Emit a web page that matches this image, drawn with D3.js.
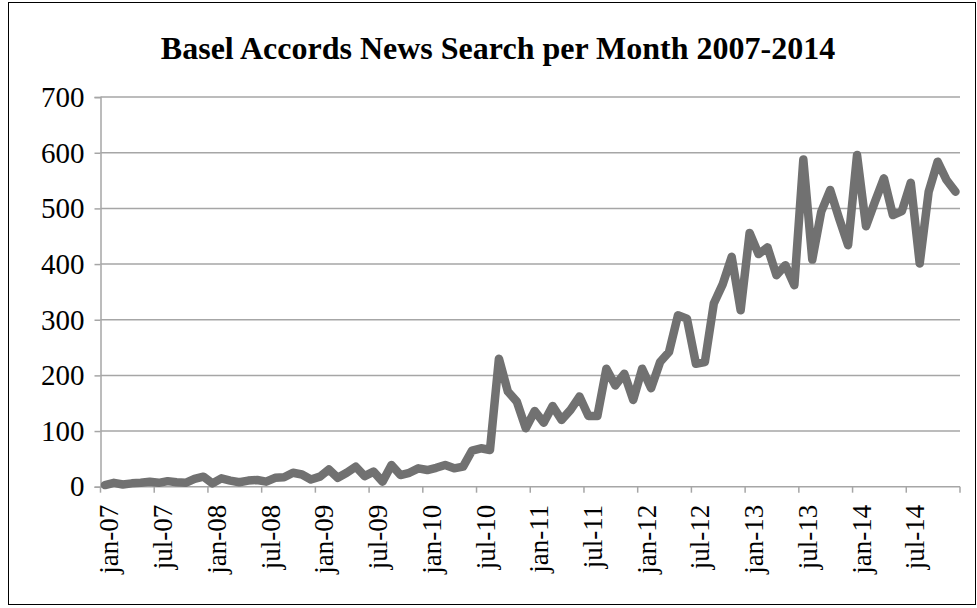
<!DOCTYPE html>
<html>
<head>
<meta charset="utf-8">
<script src="https://cdn.jsdelivr.net/npm/d3@7"></script>
<style>
  html, body { margin: 0; padding: 0; background: #fff; }
  svg { display: block; }
  text { font-family: "Liberation Serif", "Times New Roman", serif; fill: #000; }
</style>
</head>
<body>
<svg id="chart" width="977" height="608"></svg>
<script>
// ---- data ----
const title = "Basel Accords News Search per Month 2007-2014";
const years = ["07", "08", "09", "10", "11", "12", "13", "14"];
const monthNames = ["jan", "feb", "mar", "apr", "may", "jun", "jul", "aug", "sep", "oct", "nov", "dec"];
const categories = years.flatMap(y => monthNames.map(m => m + "-" + y));
const tickLabels = ["jan-07","jul-07","jan-08","jul-08","jan-09","jul-09","jan-10","jul-10",
                    "jan-11","jul-11","jan-12","jul-12","jan-13","jul-13","jan-14","jul-14"];
const yTicks = [0, 100, 200, 300, 400, 500, 600, 700];
const values = [
  3, 7, 4, 6, 7, 9, 7, 10, 8, 7, 14, 18,
  6, 15, 11, 8, 11, 12, 9, 16, 17, 25, 22, 13,
  18, 31, 16, 25, 36, 19, 27, 9, 39, 21, 25, 33,
  30, 34, 39, 33, 36, 65, 69, 66, 230, 171, 153, 105,
  136, 115, 145, 120, 138, 162, 127, 127, 212, 182, 203, 156,
  212, 177, 224, 242, 308, 302, 221, 224, 329, 364, 413, 317,
  456, 418, 430, 380, 398, 362, 588, 408, 494, 533, 482, 434,
  596, 468, 512, 554, 488, 495, 546, 401, 530, 584, 551, 530
];

// ---- layout ----
const FONT = '"Liberation Serif", "Times New Roman", serif';
const svg = d3.select("#chart");
const W = 977, H = 608;
const plot = { left: 100.5, right: 960, top: 97.1, bottom: 486.7 };

svg.append("rect").attr("x", 0).attr("y", 0).attr("width", W).attr("height", H).attr("fill", "#fff");
svg.append("rect")
  .attr("x", 8.5).attr("y", 2.5).attr("width", 967).attr("height", 602)
  .attr("fill", "none").attr("stroke", "#000").attr("stroke-width", 1);

const x = d3.scaleBand().domain(categories).range([plot.left, plot.right]).paddingInner(0).paddingOuter(0);
const y = d3.scaleLinear().domain([0, 700]).range([plot.bottom, plot.top]);
const cx = d => x(d) + x.bandwidth() / 2;

const gridColor = "#a6a6a6";

// gridlines
svg.append("g").selectAll("line").data(yTicks.filter(t => t > 0)).join("line")
  .attr("x1", plot.left).attr("x2", plot.right)
  .attr("y1", d => y(d)).attr("y2", d => y(d))
  .attr("stroke", gridColor).attr("stroke-width", 1.5);

// y axis
const yAxis = svg.append("g").attr("transform", `translate(${plot.left},0)`)
  .call(d3.axisLeft(y).tickValues(yTicks).tickSize(6).tickPadding(10).tickFormat(d3.format("d")));
yAxis.select(".domain").attr("stroke", gridColor).attr("stroke-width", 1.5);
yAxis.selectAll(".tick line").attr("stroke", gridColor).attr("stroke-width", 1.5);
yAxis.selectAll(".tick text").style("font-size", "29px").style("font-family", FONT).attr("fill", "#000");

// x axis line + boundary ticks
const xg = svg.append("g");
xg.append("line").attr("x1", plot.left).attr("x2", plot.right)
  .attr("y1", plot.bottom).attr("y2", plot.bottom)
  .attr("stroke", gridColor).attr("stroke-width", 1.5);
const boundaryIdx = d3.range(0, categories.length + 1, 6);
xg.selectAll("line.tk").data(boundaryIdx).join("line").attr("class", "tk")
  .attr("x1", i => i < categories.length ? x(categories[i]) : plot.right)
  .attr("x2", i => i < categories.length ? x(categories[i]) : plot.right)
  .attr("y1", plot.bottom).attr("y2", plot.bottom + 6)
  .attr("stroke", gridColor).attr("stroke-width", 1.5);

// x labels
const xAxis = svg.append("g").attr("transform", `translate(0,${plot.bottom})`)
  .call(d3.axisBottom(x).tickValues(tickLabels).tickSize(0).tickPadding(0));
xAxis.select(".domain").remove();
xAxis.selectAll(".tick text")
  .style("font-size", "27px").style("font-family", FONT).attr("fill", "#000")
  .attr("text-anchor", "end")
  .attr("transform", "translate(0,18) rotate(-90)")
  .attr("x", 0).attr("y", 0).attr("dy", "0.5em");

// line
const line = d3.line().x((d, i) => cx(categories[i])).y(d => y(d));
svg.append("path").datum(values)
  .attr("d", line)
  .attr("fill", "none").attr("stroke", "#717171").attr("stroke-width", 8.5)
  .attr("stroke-linejoin", "round").attr("stroke-linecap", "round");

// title
svg.append("text").attr("x", 498).attr("y", 59).attr("text-anchor", "middle")
  .style("font-size", "32px").attr("font-weight", "bold").text(title);
</script>
</body>
</html>
